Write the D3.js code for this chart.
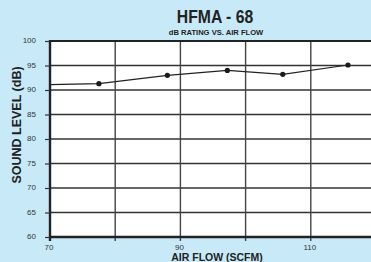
<!DOCTYPE html>
<html>
<head>
<meta charset="utf-8">
<script src="https://cdn.jsdelivr.net/npm/d3@7"></script>
<style>
  body { margin: 0; background: #c8eaf8; }
  text { font-family: "Liberation Sans", Arial, sans-serif; }
</style>
</head>
<body>
<div id="d3_container"></div>
<script>
const airFlow = [70, 77.5, 88, 97.2, 105.7, 115.7];
const soundLevel = [91.1, 91.3, 93.0, 94.0, 93.2, 95.1];
const xTicks = [70, 80, 90, 100, 110, 120];
const xLabels = [70, 90, 110];
const yTicks = [60, 65, 70, 75, 80, 85, 90, 95, 100];

const width = 371, height = 262;
const margin = {top: 41, bottom: 25, right: -5, left: 50};

const svg = d3.select("#d3_container").append("svg")
    .attr("width", width)
    .attr("height", height);

svg.append("rect").attr("width", width).attr("height", height).attr("fill", "#c8eaf8");

const x_scale = d3.scaleLinear().domain([70, 120]).range([margin.left, width - margin.right]);
const y_scale = d3.scaleLinear().domain([60, 100]).range([height - margin.bottom, margin.top]);

// plot area
svg.append("rect")
    .attr("x", margin.left).attr("y", margin.top)
    .attr("width", width - margin.left).attr("height", y_scale(60) - y_scale(100))
    .attr("fill", "#fff");

// grid
svg.append("g").selectAll("line").data(yTicks).join("line")
    .attr("x1", margin.left).attr("x2", width)
    .attr("y1", d => y_scale(d)).attr("y2", d => y_scale(d))
    .attr("stroke", "#333").attr("stroke-width", 1.4);
svg.append("g").selectAll("line").data(xTicks).join("line")
    .attr("x1", d => x_scale(d)).attr("x2", d => x_scale(d))
    .attr("y1", margin.top).attr("y2", y_scale(60) + 4)
    .attr("stroke", "#444").attr("stroke-width", 1.4);

// frame
svg.append("line").attr("x1", margin.left).attr("x2", width)
    .attr("y1", y_scale(100)).attr("y2", y_scale(100))
    .attr("stroke", "#222").attr("stroke-width", 2.2);
svg.append("line").attr("x1", margin.left - 1).attr("x2", width)
    .attr("y1", y_scale(60)).attr("y2", y_scale(60))
    .attr("stroke", "#222").attr("stroke-width", 2.6);
svg.append("line").attr("x1", margin.left).attr("x2", margin.left)
    .attr("y1", y_scale(100) - 1).attr("y2", y_scale(60) + 4)
    .attr("stroke", "#222").attr("stroke-width", 2.4);

// y axis
const y_axis = d3.axisLeft(y_scale).tickValues(yTicks).tickSize(5).tickPadding(9);
const gy = svg.append("g").attr("transform", `translate(${margin.left},0)`).call(y_axis);
gy.select(".domain").remove();
gy.selectAll("line").attr("stroke", "#333").attr("stroke-width", 1.2);
gy.selectAll("text").attr("fill", "#333").style("font-size", "8px").attr("dy", "0.2em");

// x labels
svg.append("g").selectAll("text").data(xLabels).join("text")
    .attr("x", d => x_scale(d) - 1).attr("y", y_scale(60) + 13)
    .attr("text-anchor", "middle").attr("fill", "#333")
    .style("font-size", "8px").text(d => d);

// line + points
const pts = airFlow.map((d, i) => [d, soundLevel[i]]);
svg.append("path").datum(pts)
    .attr("fill", "none").attr("stroke", "#222").attr("stroke-width", 1.2)
    .attr("d", d3.line().x(d => x_scale(d[0])).y(d => y_scale(d[1])));
svg.append("g").selectAll("circle").data(pts.slice(1)).join("circle")
    .attr("cx", d => x_scale(d[0])).attr("cy", d => y_scale(d[1]))
    .attr("r", 2.6).attr("fill", "#1a1a1a");

// titles
svg.append("text").attr("transform", "translate(215,23) scale(0.9,1)").attr("text-anchor", "middle")
    .style("font-family", "'Liberation Sans Narrow', 'Liberation Sans', sans-serif")
    .style("font-size", "17.5px").style("font-weight", "bold").attr("fill", "#222")
    .text("HFMA - 68");
svg.append("text").attr("x", 216).attr("y", 35).attr("text-anchor", "middle")
    .style("font-size", "7.6px").style("font-weight", "bold").attr("fill", "#222")
    .text("dB RATING VS. AIR FLOW");
svg.append("text").attr("x", 217).attr("y", 261).attr("text-anchor", "middle")
    .style("font-size", "10.5px").style("font-weight", "bold").attr("fill", "#222")
    .text("AIR FLOW (SCFM)");
svg.append("text").attr("transform", "translate(21,125) rotate(-90)").attr("text-anchor", "middle")
    .style("font-size", "12.5px").style("font-weight", "bold").attr("fill", "#222")
    .text("SOUND LEVEL (dB)");
</script>
</body>
</html>
